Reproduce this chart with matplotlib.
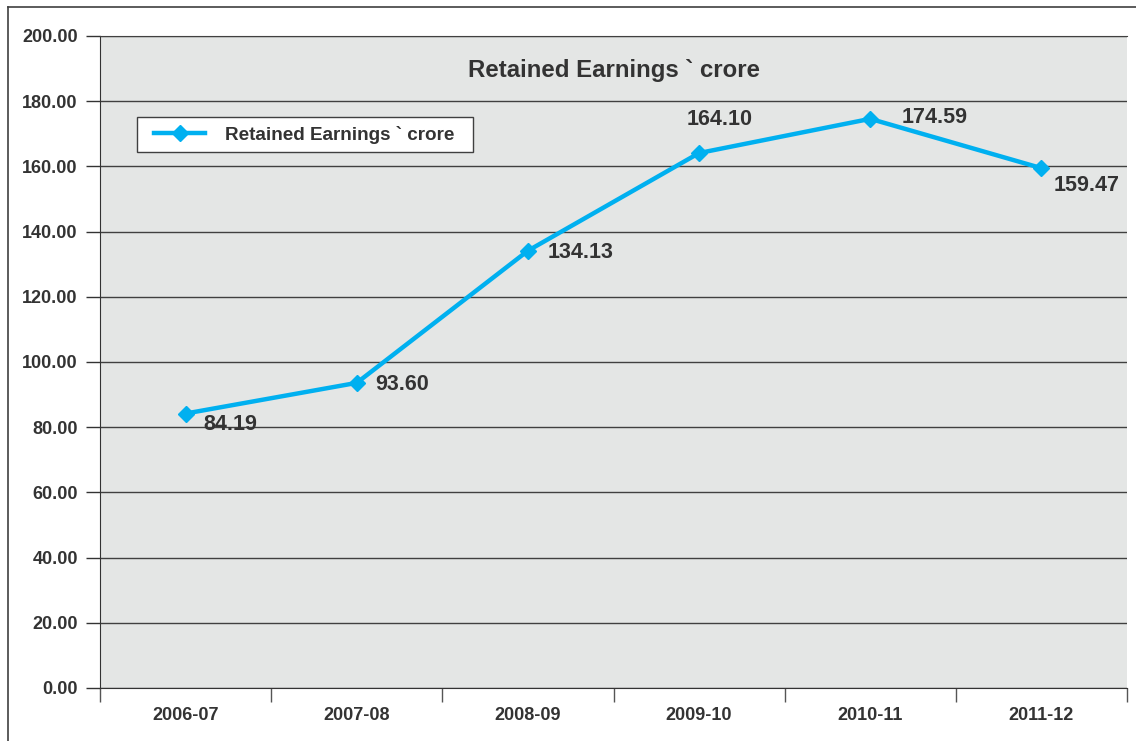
import matplotlib.pyplot as plt
from matplotlib.lines import Line2D
from matplotlib.patches import Rectangle

# Retained Earnings (crore) by financial year
years = ['2006-07', '2007-08', '2008-09', '2009-10', '2010-11', '2011-12']
earnings = [84.19, 93.60, 134.13, 164.10, 174.59, 159.47]
# label offsets in pixels (dx, dy) relative to each point
label_offsets = [(18, -11), (18, -2), (20, -2), (-12, 34), (31, 1), (12, -17)]

plt.rcParams['font.family'] = ['Liberation Sans', 'DejaVu Sans']
text_color = '#333333'
line_color = '#00B0F0'

W, H = 1136, 741
ax_l, ax_r, ax_t, ax_b = 100, 1127, 36, 688
aw, ah = ax_r - ax_l, ax_b - ax_t

fig = plt.figure(figsize=(W / 100, H / 100), dpi=100)
ax = fig.add_axes([ax_l / W, 1 - ax_b / H, aw / W, ah / H])
ax.set_facecolor('#E4E6E5')

x = list(range(len(years)))
ax.plot(x, earnings, color=line_color, linewidth=3.2, marker='D', markersize=8.5,
        label='Retained Earnings ` crore', zorder=3)

for xi, v, (dx, dy) in zip(x, earnings, label_offsets):
    ax.annotate(f'{v:.2f}', xy=(xi, v), xytext=(dx, dy), textcoords='offset pixels',
                ha='left', va='center', fontsize=15.5, fontweight='bold', color=text_color)

ax.set_xlim(-0.5, len(years) - 0.5)
ax.set_ylim(0, 200)
ax.set_yticks(range(0, 201, 20))
ax.set_yticklabels([f'{t:.2f}' for t in range(0, 201, 20)])
ax.set_xticks(x)
ax.set_xticklabels(years)
ax.set_xticks([i - 0.5 for i in range(len(years) + 1)], minor=True)
ax.tick_params(axis='x', which='major', length=0, pad=14)
ax.tick_params(axis='x', which='minor', length=10, color='#555555', width=1)
ax.tick_params(axis='y', length=10, color='#333333', width=1, pad=6)
for lab in ax.get_xticklabels() + ax.get_yticklabels():
    lab.set_fontweight('bold')
    lab.set_fontsize(13)
    lab.set_color(text_color)

ax.grid(axis='y', color='#404040', linewidth=1)
ax.set_axisbelow(True)
ax.spines['top'].set_color('#404040')
ax.spines['right'].set_visible(False)
ax.spines['left'].set_color('#333333')
ax.spines['bottom'].set_color('#333333')

ax.text(0.5, 1 - (71 - ax_t) / ah, 'Retained Earnings ` crore', transform=ax.transAxes,
        ha='center', va='center', fontsize=17.3, fontweight='bold', color=text_color)

# legend: white box plus frameless legend inside
ax.add_patch(Rectangle(((137 - ax_l) / aw, 1 - (152 - ax_t) / ah), (473 - 137) / aw, 35 / ah,
                       transform=ax.transAxes, facecolor='white', edgecolor='#404040',
                       linewidth=1, zorder=4))
leg = ax.legend(loc='center left', bbox_to_anchor=((154 - ax_l) / aw, 1 - (134.5 - ax_t) / ah),
                frameon=False, prop={'weight': 'bold', 'size': 13.6}, handlelength=2.7,
                handletextpad=1.05, borderpad=0, borderaxespad=0)
leg.set_zorder(5)
for t in leg.get_texts():
    t.set_color(text_color)

# outer chart border
fig.add_artist(Line2D([8 / W, 8 / W], [0, 1 - 7 / H], color='#404040', linewidth=1.2))
fig.add_artist(Line2D([8 / W, 1], [1 - 7 / H, 1 - 7 / H], color='#404040', linewidth=1.2))

fig.savefig('out.png', dpi=100)
